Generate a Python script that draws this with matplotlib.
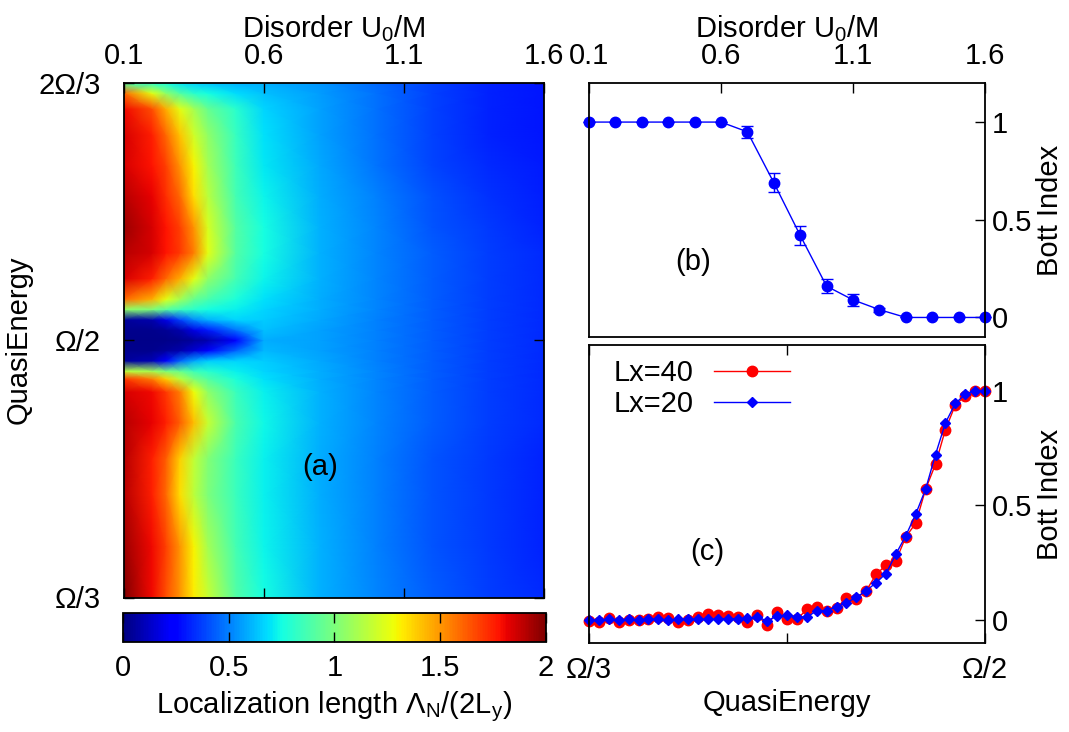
import numpy as np
import matplotlib
matplotlib.use('Agg')
import matplotlib.pyplot as plt

plt.rcParams['font.family'] = ['Liberation Sans', 'DejaVu Sans']
plt.rcParams['mathtext.fontset'] = 'custom'
plt.rcParams['mathtext.rm'] = 'Liberation Sans'
plt.rcParams['mathtext.it'] = 'Liberation Sans:italic'
plt.rcParams['mathtext.bf'] = 'Liberation Sans:bold'

# ---------------- data ----------------
# (a) localization length map: disorder columns, quasienergy rows (units of Omega)
disorder_cols = np.array([0.1, 0.2, 0.25, 0.3, 0.35, 0.4, 0.5, 0.6, 0.8, 1.0, 1.2, 1.4, 1.6])
energy_rows = np.array([1/3, 0.3667, 0.4, 0.4233, 0.4467, 0.4667, 0.475, 0.48, 0.4867,
                        0.4933, 0.5, 0.5067, 0.5133, 0.52, 0.5267, 0.54, 0.5567, 0.5733,
                        0.5933, 0.6133, 0.6333, 0.65, 0.66, 2/3])
loc_length = np.array([
    [2.00, 1.80, 1.65, 1.50, 1.32, 1.18, 0.90, 0.75, 0.60, 0.51, 0.43, 0.37, 0.33],
    [1.95, 1.80, 1.68, 1.50, 1.30, 1.10, 0.86, 0.73, 0.60, 0.50, 0.42, 0.36, 0.32],
    [1.90, 1.75, 1.60, 1.35, 1.15, 1.00, 0.84, 0.72, 0.59, 0.50, 0.42, 0.36, 0.32],
    [1.90, 1.75, 1.62, 1.38, 1.17, 1.02, 0.84, 0.72, 0.59, 0.50, 0.42, 0.36, 0.32],
    [1.90, 1.82, 1.75, 1.62, 1.42, 1.18, 0.88, 0.74, 0.60, 0.51, 0.43, 0.37, 0.33],
    [1.85, 1.80, 1.70, 1.55, 1.28, 1.05, 0.84, 0.72, 0.60, 0.51, 0.43, 0.37, 0.33],
    [1.70, 1.55, 1.38, 1.15, 1.00, 0.90, 0.77, 0.69, 0.59, 0.51, 0.43, 0.37, 0.33],
    [1.15, 1.10, 1.00, 0.95, 0.85, 0.80, 0.72, 0.67, 0.59, 0.51, 0.43, 0.37, 0.33],
    [0.05, 0.10, 0.25, 0.45, 0.58, 0.65, 0.67, 0.65, 0.58, 0.50, 0.43, 0.37, 0.33],
    [0.03, 0.03, 0.05, 0.08, 0.15, 0.25, 0.45, 0.61, 0.57, 0.50, 0.43, 0.37, 0.33],
    [0.02, 0.02, 0.02, 0.03, 0.05, 0.08, 0.22, 0.59, 0.57, 0.50, 0.43, 0.37, 0.33],
    [0.03, 0.03, 0.04, 0.08, 0.18, 0.30, 0.48, 0.63, 0.57, 0.50, 0.43, 0.37, 0.33],
    [0.05, 0.08, 0.18, 0.38, 0.52, 0.60, 0.67, 0.65, 0.58, 0.50, 0.43, 0.37, 0.33],
    [1.05, 1.00, 0.92, 0.85, 0.80, 0.75, 0.72, 0.67, 0.59, 0.51, 0.43, 0.37, 0.33],
    [1.60, 1.45, 1.25, 1.10, 0.95, 0.88, 0.77, 0.69, 0.59, 0.51, 0.43, 0.37, 0.33],
    [1.85, 1.75, 1.60, 1.45, 1.25, 1.05, 0.86, 0.73, 0.60, 0.51, 0.43, 0.37, 0.33],
    [1.90, 1.85, 1.78, 1.70, 1.55, 1.25, 0.90, 0.75, 0.60, 0.51, 0.43, 0.37, 0.33],
    [1.95, 1.85, 1.78, 1.68, 1.50, 1.22, 0.90, 0.75, 0.60, 0.51, 0.42, 0.36, 0.32],
    [1.90, 1.82, 1.72, 1.60, 1.35, 1.15, 0.86, 0.73, 0.59, 0.50, 0.41, 0.35, 0.31],
    [1.85, 1.78, 1.68, 1.50, 1.30, 1.10, 0.85, 0.71, 0.58, 0.48, 0.39, 0.33, 0.30],
    [1.85, 1.75, 1.60, 1.40, 1.20, 1.05, 0.83, 0.69, 0.57, 0.47, 0.38, 0.32, 0.29],
    [1.80, 1.65, 1.45, 1.25, 1.10, 0.95, 0.80, 0.67, 0.57, 0.47, 0.38, 0.32, 0.29],
    [1.60, 1.25, 1.05, 0.90, 0.80, 0.75, 0.68, 0.63, 0.56, 0.47, 0.38, 0.32, 0.29],
    [0.90, 0.80, 0.75, 0.70, 0.66, 0.63, 0.60, 0.59, 0.54, 0.46, 0.38, 0.32, 0.29],
])

# (b) Bott index vs disorder
disorder_b = np.array([0.1, 0.2, 0.3, 0.4, 0.5, 0.6, 0.7, 0.8, 0.9, 1.0, 1.1, 1.2, 1.3, 1.4, 1.5, 1.6])
bott_b = np.array([1.0, 1.0, 1.0, 1.0, 1.0, 1.0, 0.95, 0.69, 0.42, 0.16, 0.09, 0.04, 0.0, 0.0, 0.0, 0.0])
bott_b_err = np.array([0, 0, 0, 0, 0, 0, 0.03, 0.047, 0.049, 0.036, 0.03, 0.01, 0, 0, 0, 0])

# (c) Bott index vs quasienergy (Omega/3 .. Omega/2)
energy_c = np.linspace(1/3, 1/2, 41)
bott_lx40 = np.array([-0.005, -0.007, 0.007, -0.01, 0.0, 0.0, 0.006, 0.015, 0.01, -0.007,
                      0.0, 0.013, 0.025, 0.022, 0.019, 0.013, -0.007, 0.02, -0.022, 0.036,
                      0.003, 0.003, 0.047, 0.058, 0.039, 0.051, 0.097, 0.094, 0.128, 0.199,
                      0.24, 0.259, 0.363, 0.422, 0.571, 0.68, 0.831, 0.938, 0.978, 1.0, 1.0])
bott_lx20 = np.array([0.0, 0.0, 0.003, 0.0, 0.003, 0.0, 0.003, 0.003, 0.0, 0.003,
                      0.003, 0.003, 0.003, 0.006, 0.006, 0.006, 0.007, 0.012, -0.003, 0.017,
                      0.02, 0.015, 0.012, 0.041, 0.041, 0.058, 0.076, 0.099, 0.128, 0.163,
                      0.203, 0.288, 0.368, 0.462, 0.571, 0.722, 0.86, 0.945, 0.985, 1.0, 1.0])

# ---------------- figure ----------------
W, H = 1069, 732
FS = 21
fig = plt.figure(figsize=(W / 100, H / 100), dpi=100)

def rect(x0, y0, x1, y1):
    return [x0 / W, 1 - y1 / H, (x1 - x0) / W, (y1 - y0) / H]

ax_a = fig.add_axes(rect(124, 83, 544, 597.5))
cax = fig.add_axes(rect(123, 613, 546, 642))
ax_b = fig.add_axes(rect(589, 83, 985, 337))
ax_c = fig.add_axes(rect(589, 345, 985, 643))

for ax in (ax_a, cax, ax_b, ax_c):
    for s in ax.spines.values():
        s.set_linewidth(1.3)

# (a)
mesh = ax_a.pcolormesh(disorder_cols, energy_rows, loc_length, shading='gouraud',
                       cmap='jet', vmin=0, vmax=2, rasterized=True)
ax_a.set_xlim(0.1, 1.6)
ax_a.set_ylim(1/3, 2/3)
ax_a.set_xticks([0.1, 0.6, 1.1, 1.6], ['0.1', '0.6', '1.1', '1.6'])
ax_a.tick_params(axis='x', direction='in', top=True, bottom=True, labeltop=True,
                 labelbottom=False, length=7, width=1, pad=9, labelsize=FS)
ax_a.set_yticks([1/3, 0.5, 2/3], ['Ω/3', 'Ω/2', '2Ω/3'])
ax_a.tick_params(axis='y', direction='in', left=True, right=True, length=7, width=1,
                 pad=17, labelsize=FS)
ax_a.xaxis.set_label_position('top')
ax_a.set_xlabel('Disorder U$_0$/M', fontsize=FS, labelpad=4)
ax_a.set_ylabel('QuasiEnergy', fontsize=FS)
ax_a.yaxis.set_label_coords(-0.217, 0.5)
ax_a.text(0.80, 0.418, '(a)', fontsize=FS, ha='center', va='center')

# colorbar
cb = fig.colorbar(mesh, cax=cax, orientation='horizontal')
cb.outline.set_linewidth(1.3)
cax.set_xticks([0, 0.5, 1, 1.5, 2], ['0', '0.5', '1', '1.5', '2'])
cax.tick_params(axis='x', direction='in', top=True, bottom=True, length=7, width=1,
                pad=9, labelsize=FS)
cax.set_xlabel('Localization length Λ$_\\mathrm{N}$/(2L$_\\mathrm{y}$)', fontsize=FS, labelpad=5)

# (b)
ax_b.errorbar(disorder_b, bott_b, yerr=bott_b_err, color='blue', marker='o', ms=7.5,
              lw=1, elinewidth=1, capsize=4, capthick=1, clip_on=False)
ax_b.set_xlim(0.1, 1.6)
ax_b.set_ylim(-0.1, 1.2)
ax_b.xaxis.tick_top()
ax_b.set_xticks([0.1, 0.6, 1.1, 1.6], ['0.1', '0.6', '1.1', '1.6'])
ax_b.tick_params(axis='x', direction='in', top=True, bottom=False, labeltop=True,
                 labelbottom=False, length=7, width=1, pad=9, labelsize=FS)
ax_b.yaxis.tick_right()
ax_b.set_yticks([0, 0.5, 1], ['0', '0.5', '1'])
ax_b.tick_params(axis='y', direction='in', left=False, right=True, length=7, width=1,
                 pad=5, labelsize=FS)
ax_b.xaxis.set_label_position('top')
ax_b.set_xlabel('Disorder U$_0$/M', fontsize=FS, labelpad=4)
ax_b.yaxis.set_label_position('right')
ax_b.set_ylabel('Bott Index', fontsize=FS, labelpad=3)
ax_b.text(0.494, 0.284, '(b)', fontsize=FS, ha='center', va='center')

# (c)
ax_c.plot(energy_c, bott_lx40, color='red', marker='o', ms=7.5, lw=1, clip_on=False,
          label='Lx=40')
ax_c.plot(energy_c, bott_lx20, color='blue', marker='D', ms=5, lw=1, clip_on=False,
          label='Lx=20')
ax_c.set_xlim(1/3, 1/2)
ax_c.set_ylim(-0.1, 1.2)
ax_c.set_xticks([1/3, 5/12, 1/2], ['Ω/3', '', 'Ω/2'])
ax_c.tick_params(axis='x', direction='in', top=True, bottom=True, length=7, width=1,
                 pad=9, labelsize=FS)
ax_c.yaxis.tick_right()
ax_c.set_yticks([0, 0.5, 1], ['0', '0.5', '1'])
ax_c.tick_params(axis='y', direction='in', left=False, right=True, length=7, width=1,
                 pad=5, labelsize=FS)
ax_c.yaxis.set_label_position('right')
ax_c.set_ylabel('Bott Index', fontsize=FS, labelpad=3)
ax_c.set_xlabel('QuasiEnergy', fontsize=FS, labelpad=4)
ax_c.text(0.383, 0.297, '(c)', fontsize=FS, ha='center', va='center')
ax_c.legend(loc='upper left', bbox_to_anchor=(0.01, 1.02), frameon=False, markerfirst=False,
            fontsize=FS, handlelength=2.6, handletextpad=0.7, labelspacing=0.1,
            borderaxespad=0.3)

fig.savefig('out.png', dpi=100)
